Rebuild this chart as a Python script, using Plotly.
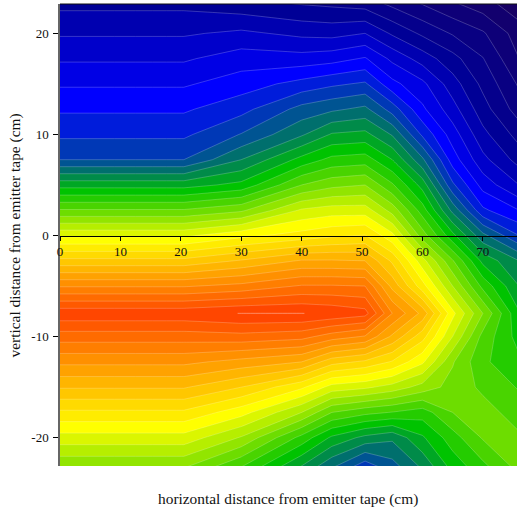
import plotly.graph_objects as go

x_cm = [0, 20.5, 30, 40, 45, 50.5, 55, 60, 65, 70, 76]
y_cm = [23, 20, 17.5, 15, 12.5, 10, 7.5, 5, 2.5, 0, -2.5, -5, -7.7, -10, -12.5, -15, -17.5, -20, -23]
level_grid = [
    [0.7, 0.7, 0.3, -0.1, -0.25, -0.5, -1.3, -2.1, -2.9, -3.6, -4.7],
    [1.88, 1.88, 2.2, 1.75, 1.65, 2, 0.85, -0.2, -1.1, -1.87, -3.5],
    [2.86, 2.86, 3.5, 3.4, 3.6, 4.1, 2.75, 1.55, 0.35, -0.95, -3],
    [3.87, 3.87, 4.5, 5.35, 5.8, 6.15, 4.3, 3.25, 1.45, -0.26, -2.15],
    [4.85, 4.85, 5.65, 7.35, 7.8, 8.25, 6.55, 4.2, 2.4, 0.43, -1.5],
    [5.8, 5.8, 7.05, 8.85, 10.1, 10.3, 8.9, 5.8, 3.5, 1.3, -0.4],
    [7, 7, 9, 11.35, 12.3, 12.5, 11, 8.2, 4.5, 2.3, 0.6],
    [10.6, 10.6, 11.3, 14, 14.7, 15, 13.15, 10.6, 6.2, 3.6, 2],
    [14.1, 14.1, 14.8, 17.15, 17.5, 17.5, 15.6, 12.5, 8.7, 5.2, 4],
    [17.8, 17.8, 18.7, 19.4, 19.8, 20.05, 18.3, 14.5, 11.3, 8.3, 6],
    [21.3, 21.3, 22.1, 23.1, 23.1, 23, 20.8, 17.4, 14.1, 10.7, 9],
    [24.9, 24.9, 25.3, 26.1, 26.1, 26, 22.7, 19.4, 16, 12.7, 10],
    [28.7, 28.7, 29.02, 29.02, 28.8, 28.4, 25, 22.7, 18.3, 15, 11.1],
    [26.5, 26.5, 26.65, 26.35, 25.5, 24.9, 22.8, 20.4, 17, 13.65, 11.6],
    [24.25, 24.25, 23.65, 23, 21.4, 20.8, 19.9, 18.2, 15.1, 13.2, 12.2],
    [22.1, 22.1, 21, 19.2, 17.6, 17.2, 16.6, 15.6, 14.6, 13.8, 12.9],
    [19.8, 19.8, 18.4, 16, 14, 13.3, 12.95, 12.5, 14, 14.4, 13.55],
    [17.6, 17.6, 15.9, 12.65, 10.8, 9.7, 9.2, 10.85, 12.55, 14.1, 14.15],
    [15, 15, 12.9, 9.8, 8, 6.2, 7.5, 9.1, 11.3, 12.65, 14.3],
]
x_ticks = [0, 10, 20, 30, 40, 50, 60, 70]
y_ticks = [-20, -10, 0, 10, 20]
y_tick_text = ["-20", "-10", "0", "10", "20"]
x_title = "horizontal distance from emitter tape (cm)"
y_title = "vertical distance from emitter tape (cm)"

z_min, z_max = -5, 30
def s(v):
    return (v - z_min) / (z_max - z_min)
scale = [
    [s(-5), "rgb(25,0,95)"],
    [s(0.5), "rgb(0,0,150)"],
    [s(4.5), "rgb(0,0,255)"],
    [s(11.5), "rgb(0,195,0)"],
    [s(18.5), "rgb(255,255,0)"],
    [s(28.5), "rgb(255,70,0)"],
    [s(30), "rgb(255,60,0)"],
]
font = "Liberation Serif, Times New Roman, serif"
y0, y1 = -22.8, 22.9

fig = go.Figure(go.Contour(
    x=x_cm, y=y_cm[::-1], z=level_grid[::-1],
    zmin=z_min, zmax=z_max, autocontour=False,
    contours=dict(start=z_min, end=z_max, size=1, coloring="fill", showlines=True),
    line=dict(color="rgba(255,255,255,0.35)", width=0.6, smoothing=0),
    colorscale=scale, showscale=False, connectgaps=True, hoverinfo="skip",
))
fig.update_layout(
    width=517, height=510, autosize=False,
    margin=dict(l=60, r=0, t=4, b=44, pad=0),
    paper_bgcolor="white", plot_bgcolor="white", showlegend=False,
    font=dict(family=font, color="#111", size=13),
    xaxis=dict(range=[0, 75.65], tickvals=x_ticks, ticks="outside", ticklen=4, tickwidth=1,
               tickcolor="black", showline=True, linecolor="black", linewidth=1, showgrid=False,
               zeroline=False, anchor="free", position=(0 - y0) / (y1 - y0),
               tickfont=dict(family=font, size=13), layer="above traces"),
    yaxis=dict(range=[y0, y1], tickvals=y_ticks, ticktext=y_tick_text, ticks="outside", ticklen=5,
               tickwidth=1, tickcolor="black", showline=True, linecolor="#666", linewidth=1.5,
               showgrid=False, zeroline=False, tickfont=dict(family=font, size=13),
               ticklabelstandoff=2, layer="above traces"),
    shapes=[dict(type="line", xref="paper", yref="paper", x0=0, x1=1, y0=1, y1=1,
                 line=dict(color="#111", width=1))],
    annotations=[
        dict(text=x_title, xref="paper", yref="paper", x=0.4985, y=-0.0715, yanchor="middle",
             showarrow=False, font=dict(family=font, size=15.4)),
        dict(text=y_title, xref="paper", yref="paper", x=-0.0975, y=0.5, textangle=-90,
             xanchor="center", showarrow=False, font=dict(family=font, size=15.4)),
    ],
)
fig.write_html("out.html", post_script="document.body.style.margin='0';",
               config={"displayModeBar": False})
